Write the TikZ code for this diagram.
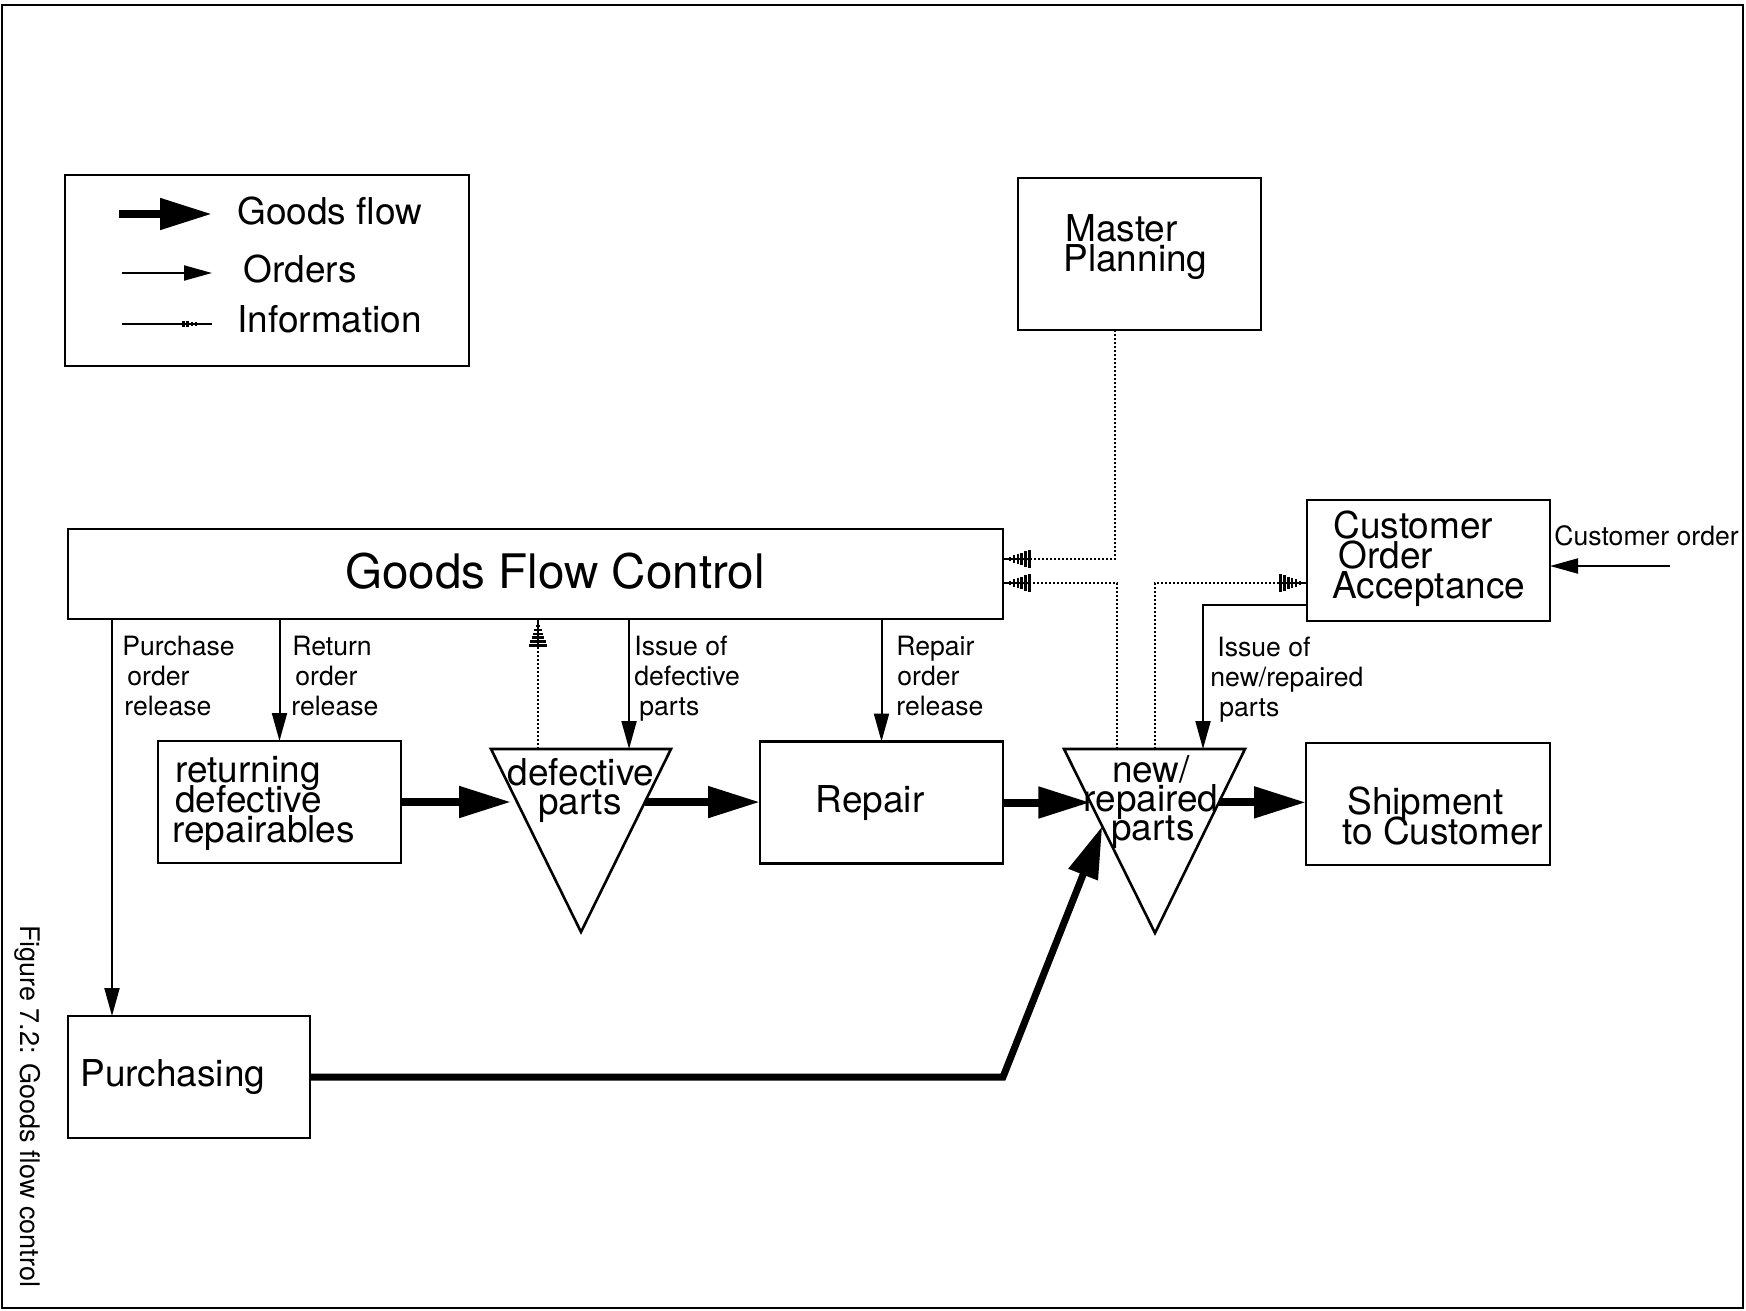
\documentclass[tikz,border=0pt]{standalone}
\usepackage{fontspec}
\setmainfont{TeX Gyre Heros}
\usetikzlibrary{arrows.meta,calc}

% Information arrow tip: a triangle drawn as a row of shrinking cross strokes
\pgfdeclarearrow{
  name = Hatch,
  parameters = {\the\pgfarrowlength,\the\pgfarrowwidth},
  setup code = {
    \pgfarrowssettipend{\pgfarrowlength}
    \pgfarrowssetbackend{0pt}
    \pgfarrowssetlineend{0.5pt}
    \pgfarrowshullpoint{\pgfarrowlength}{0pt}
    \pgfarrowsupperhullpoint{0pt}{.5\pgfarrowwidth}
    \pgfarrowssavethe\pgfarrowlength
    \pgfarrowssavethe\pgfarrowwidth
  },
  drawing code = {
    \pgfsetdash{}{0pt}
    \pgfsetlinewidth{1.3pt}
    \pgfsetbuttcap
    \pgfpathmoveto{\pgfpoint{.05\pgfarrowlength}{.48\pgfarrowwidth}}\pgfpathlineto{\pgfpoint{.05\pgfarrowlength}{-.48\pgfarrowwidth}}
    \pgfpathmoveto{\pgfpoint{.19\pgfarrowlength}{.41\pgfarrowwidth}}\pgfpathlineto{\pgfpoint{.19\pgfarrowlength}{-.41\pgfarrowwidth}}
    \pgfpathmoveto{\pgfpoint{.33\pgfarrowlength}{.34\pgfarrowwidth}}\pgfpathlineto{\pgfpoint{.33\pgfarrowlength}{-.34\pgfarrowwidth}}
    \pgfpathmoveto{\pgfpoint{.47\pgfarrowlength}{.27\pgfarrowwidth}}\pgfpathlineto{\pgfpoint{.47\pgfarrowlength}{-.27\pgfarrowwidth}}
    \pgfpathmoveto{\pgfpoint{.61\pgfarrowlength}{.20\pgfarrowwidth}}\pgfpathlineto{\pgfpoint{.61\pgfarrowlength}{-.20\pgfarrowwidth}}
    \pgfpathmoveto{\pgfpoint{.75\pgfarrowlength}{.13\pgfarrowwidth}}\pgfpathlineto{\pgfpoint{.75\pgfarrowlength}{-.13\pgfarrowwidth}}
    \pgfpathmoveto{\pgfpoint{.89\pgfarrowlength}{.07\pgfarrowwidth}}\pgfpathlineto{\pgfpoint{.89\pgfarrowlength}{-.07\pgfarrowwidth}}
    \pgfusepathqstroke
    \pgfsetlinewidth{1pt}
    \pgfpathmoveto{\pgfpointorigin}\pgfpathlineto{\pgfpoint{\pgfarrowlength}{0pt}}
    \pgfusepathqstroke
  },
  defaults = {length = 14pt, width = 9.5pt}
}

\tikzset{
  boxnode/.style={draw, line width=1.3pt, inner sep=0pt, outer sep=0pt},
  bigtxt/.style={inner sep=0pt, anchor=base west, font=\fontsize{18.5}{22}\selectfont},
  bigctr/.style={inner sep=0pt, anchor=base, font=\fontsize{18.5}{22}\selectfont},
  smalltxt/.style={inner sep=0pt, anchor=base west, font=\fontsize{13.3}{16}\selectfont},
  goodsarrow/.style={line width=4pt, -{Triangle[length=26pt,width=15pt]}},
  orderarrow/.style={line width=1pt, -{Triangle[length=14pt,width=7.5pt]}},
  infoarrow/.style={line width=1.3pt, dash pattern=on 1pt off 1pt, -{Hatch[length=14pt,width=9.5pt]}},
}

\begin{document}
\begin{tikzpicture}[x=0.5pt, y=-0.5pt]
\useasboundingbox (0,0) rectangle (1746,1311);
\fill[white] (0,0) rectangle (1746,1311);

% outer frame
\draw[line width=1.1pt] (2,5) rectangle (1743,1308);

% caption along the left side
\node[rotate=-90, inner sep=0pt, font=\fontsize{13.5}{16}\selectfont] (caption) at (28,1106) {Figure 7.2: Goods flow control};

% ---------------- legend ----------------
\node[boxnode, minimum width=202pt, minimum height=95.5pt] (legend) at (267,270.5) {};
\coordinate (lgGa) at (119,214); \coordinate (lgGb) at (212,214);
\coordinate (lgOa) at (122,273); \coordinate (lgOb) at (212,273);
\coordinate (lgIa) at (122,324); \coordinate (lgIb) at (212,324);
\draw[goodsarrow] (lgGa) -- (lgGb);
\draw[orderarrow] (lgOa) -- (lgOb);
\draw[line width=0.8pt, -{Hatch[length=15pt,width=3.5pt]}] (lgIa) -- (lgIb);
\node[bigtxt] (lgT1) at (237,224) {Goods flow};
\node[bigtxt] (lgT2) at (243,282) {Orders};
\node[bigtxt] (lgT3) at (237,332) {Information};

% ---------------- boxes ----------------
\node[boxnode, minimum width=121.5pt, minimum height=76pt] (mp) at (1139.5,254) {};
\node[bigtxt] (mpT1) at (1065,242) {Master};
\node[bigtxt] (mpT2) at (1063,271) {Planning};

\node[boxnode, minimum width=467.5pt, minimum height=45pt] (gfc) at (535.5,574) {};
\node[inner sep=0pt, anchor=base, font=\fontsize{23.8}{28}\selectfont] (gfcT) at (555,588) {Goods Flow Control};

\node[boxnode, minimum width=121.5pt, minimum height=60.5pt] (coa) at (1428.5,560.5) {};
\node[bigtxt] (coaT1) at (1333,538) {Customer};
\node[bigtxt] (coaT2) at (1338,568) {Order};
\node[bigtxt] (coaT3) at (1332,598) {Acceptance};

\node[boxnode, minimum width=121.5pt, minimum height=61pt] (ret) at (279.5,802) {};
\node[bigtxt] (retT1) at (175,782) {returning};
\node[bigtxt] (retT2) at (175,812) {defective};
\node[bigtxt] (retT3) at (172,842) {repairables};

\node[boxnode, minimum width=121.5pt, minimum height=61pt] (rep) at (881.5,802.5) {};
\node[bigctr] (repT) at (870,812) {Repair};

\node[boxnode, minimum width=122pt, minimum height=61pt] (ship) at (1428,804) {};
\node[bigtxt] (shipT1) at (1347,814) {Shipment};
\node[bigtxt] (shipT2) at (1342,844) {to Customer};

\node[boxnode, minimum width=121pt, minimum height=61pt] (pur) at (189,1077) {};
\node[bigtxt] (purT) at (80,1086) {Purchasing};

% ---------------- stock points (triangles) ----------------
\coordinate (dpTL) at (491,749); \coordinate (dpTR) at (671,749); \coordinate (dpB) at (581,932);
\draw[line width=1.3pt, line join=miter] (dpTL) -- (dpTR) -- (dpB) -- cycle;
\node[bigctr] (dpT1) at (581,785) {defective};
\node[bigctr] (dpT2) at (580,814) {parts};

\coordinate (nrTL) at (1064,749); \coordinate (nrTR) at (1245,749); \coordinate (nrB) at (1155,933);
\draw[line width=1.3pt, line join=miter] (nrTL) -- (nrTR) -- (nrB) -- cycle;
\node[bigctr] (nrT1) at (1151,782) {new/};
\node[bigctr] (nrT2) at (1151,811) {repaired};
\node[bigctr] (nrT3) at (1153,840) {parts};

% points on the triangle edges
\coordinate (dpL) at ($(dpTL)!0.29!(dpB)$);
\coordinate (dpR) at ($(dpTR)!0.29!(dpB)$);
\coordinate (dpIss) at ($(dpTL)!0.767!(dpTR)$);
\coordinate (dpInf) at ($(dpTL)!0.261!(dpTR)$);
\coordinate (nrL) at ($(nrTL)!0.29!(nrB)$);
\coordinate (nrR) at ($(nrTR)!0.29!(nrB)$);
\coordinate (nrP) at ($(nrTL)!0.42!(nrB)$);
\coordinate (nrIss) at ($(nrTL)!0.768!(nrTR)$);
\coordinate (nrI1) at ($(nrTL)!0.293!(nrTR)$);
\coordinate (nrI2) at ($(nrTL)!0.503!(nrTR)$);

% ---------------- goods flow ----------------
\draw[goodsarrow, shorten >=3pt] (ret.east) -- (ret.east -| dpL);
\draw[goodsarrow] (dpR) -- (dpR -| rep.west);
\draw[goodsarrow] (rep.east) -- (rep.east -| nrL);
\draw[goodsarrow] (nrR) -- (nrR -| ship.west);
\draw[line width=3.5pt, line join=miter, -{Triangle[length=26pt,width=15pt]}]
  (pur.east) -- (pur.east -| rep.east) -- (nrP);

% ---------------- orders ----------------
\coordinate (poSrc) at ($(gfc.south west)+(44,0)$);
\draw[orderarrow] (poSrc) -- (poSrc |- pur.north);
\node[smalltxt] (poT1) at (122,655) {Purchase};
\node[smalltxt] (poT2) at (127,685) {order};
\node[smalltxt] (poT3) at (124,715) {release};

\draw[orderarrow] (gfc.south -| ret.north) -- (ret.north);
\node[smalltxt] (roT1) at (292,655) {Return};
\node[smalltxt] (roT2) at (295,685) {order};
\node[smalltxt] (roT3) at (291,715) {release};

\draw[orderarrow] (gfc.south -| dpIss) -- (dpIss);
\node[smalltxt] (idT1) at (634,655) {Issue of};
\node[smalltxt] (idT2) at (634,685) {defective};
\node[smalltxt] (idT3) at (639,715) {parts};

\draw[orderarrow] (gfc.south -| rep.north) -- (rep.north);
\node[smalltxt] (rpT1) at (896,655) {Repair};
\node[smalltxt] (rpT2) at (897,685) {order};
\node[smalltxt] (rpT3) at (896,715) {release};

\coordinate (coaOut) at ($(coa.south west)+(0,-16)$);
\draw[orderarrow] (coaOut) -| (nrIss);
\node[smalltxt] (inT1) at (1217,656) {Issue of};
\node[smalltxt] (inT2) at (1210,686) {new/repaired};
\node[smalltxt] (inT3) at (1219,716) {parts};

\coordinate (custSrc) at ($(coa.east)+(120,5.5)$);
\draw[orderarrow] (custSrc) -- (custSrc -| coa.east);
\node[smalltxt] (custT) at (1554,545) {Customer order};

% ---------------- information ----------------
\coordinate (gIn1) at ($(gfc.east)+(0,-15)$);
\coordinate (gIn2) at ($(gfc.east)+(0,9)$);
\draw[infoarrow] ($(mp.south)+(-24.5,0)$) |- (gIn1);
\draw[infoarrow] (nrI1) |- (gIn2);
\draw[infoarrow] (nrI2) |- (gIn2 -| coa.west);
\draw[infoarrow] (dpInf) -- (dpInf |- gfc.south);

\end{tikzpicture}
\end{document}
